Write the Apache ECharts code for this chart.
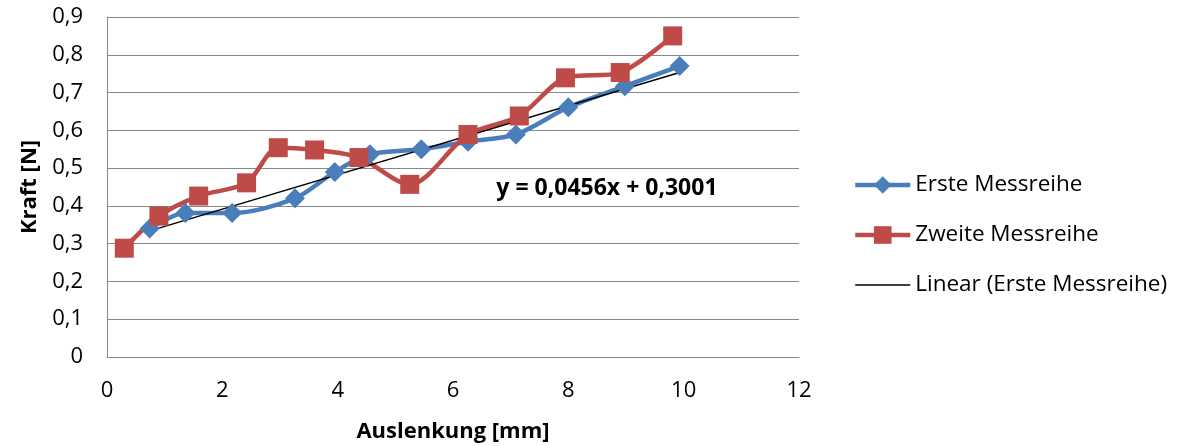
<!DOCTYPE html>
<html>
<head>
<meta charset="utf-8">
<script src="https://cdn.jsdelivr.net/npm/echarts@6/dist/echarts.min.js"></script>
<style>
  html, body { margin: 0; padding: 0; background: #ffffff; }
  #chart { width: 1190px; height: 446px; }
</style>
</head>
<body>
<div id="chart"></div>
<script>
// Measured deflection (mm) and force (N), first series
const ersteX = [0.74, 1.36, 2.17, 3.26, 3.95, 4.56, 5.45, 6.26, 7.09, 8.00, 8.98, 9.93];
const ersteY = [0.340, 0.381, 0.381, 0.420, 0.490, 0.537, 0.550, 0.570, 0.589, 0.661, 0.717, 0.770];

// Second series
const zweiteX = [0.30, 0.90, 1.59, 2.42, 2.97, 3.60, 4.37, 5.25, 6.26, 7.15, 7.95, 8.90, 9.81];
const zweiteY = [0.288, 0.373, 0.426, 0.461, 0.554, 0.548, 0.528, 0.457, 0.589, 0.638, 0.739, 0.753, 0.850];

// Linear trend of the first series
const trendSlope = 0.0456;
const trendIntercept = 0.3001;

// Axis ranges and tick steps
const xTicks = [0, 2, 4, 6, 8, 10, 12];
const yTicks = [0, 0.1, 0.2, 0.3, 0.4, 0.5, 0.6, 0.7, 0.8, 0.9];

const seriesNames = ['Erste Messreihe', 'Zweite Messreihe', 'Linear (Erste Messreihe)'];
const xTitle = 'Auslenkung [mm]';
const yTitle = 'Kraft [N]';

const FONT = '"Open Sans", "Noto Sans", sans-serif';
const GRID_COLOR = '#888888';
const BLUE = '#4A7EBB';
const RED = '#BE4B48';

const pairs = (xs, ys) => xs.map((x, i) => [x, ys[i]]);
const dec = v => String(v).replace('.', ',');

const trendStart = ersteX[0];
const trendEnd = ersteX[ersteX.length - 1];
const trendData = [
  [trendStart, trendSlope * trendStart + trendIntercept],
  [trendEnd, trendSlope * trendEnd + trendIntercept]
];
const equation = 'y = ' + dec(trendSlope.toFixed(4)) + 'x + ' + dec(trendIntercept.toFixed(4));

const chart = echarts.init(document.getElementById('chart'), null, { renderer: 'canvas' });

chart.setOption({
  animation: false,
  backgroundColor: '#ffffff',
  textStyle: { fontFamily: FONT },
  grid: {
    left: 107, right: 391, top: 17, bottom: 89,
    containLabel: false,
    outerBoundsMode: 'none'
  },
  legend: {
    orient: 'vertical',
    left: 853,
    top: 172,
    itemWidth: 55,
    itemHeight: 22,
    itemGap: 24,
    padding: 0,
    data: [
      { name: seriesNames[0], lineStyle: { width: 4.5, color: BLUE } },
      { name: seriesNames[1], lineStyle: { width: 4.5, color: RED } },
      { name: seriesNames[2], lineStyle: { width: 1.5, color: '#000000' }, itemStyle: { opacity: 0 } }
    ],
    textStyle: { fontFamily: FONT, fontSize: 22.5, color: '#000000', lineHeight: 26 }
  },
  xAxis: {
    type: 'value',
    min: xTicks[0],
    max: xTicks[xTicks.length - 1],
    interval: xTicks[1] - xTicks[0],
    name: xTitle,
    nameLocation: 'middle',
    nameGap: 64,
    nameTextStyle: { fontFamily: FONT, fontSize: 22, fontWeight: 'bold', color: '#000000' },
    axisLine: { show: true, lineStyle: { color: GRID_COLOR, width: 1 } },
    axisTick: { show: false },
    splitLine: { show: false },
    axisLabel: { fontFamily: FONT, fontSize: 22, color: '#000000', margin: 23, formatter: v => dec(v) }
  },
  yAxis: {
    type: 'value',
    min: yTicks[0],
    max: yTicks[yTicks.length - 1],
    interval: 0.1,
    name: yTitle,
    nameLocation: 'middle',
    nameGap: 66,
    nameTextStyle: { fontFamily: FONT, fontSize: 22, fontWeight: 'bold', color: '#000000' },
    axisLine: { show: true, lineStyle: { color: GRID_COLOR, width: 1 } },
    axisTick: { show: false },
    splitLine: { show: true, lineStyle: { color: GRID_COLOR, width: 1 } },
    axisLabel: {
      fontFamily: FONT, fontSize: 22, color: '#000000', margin: 24,
      formatter: v => v === 0 ? '0' : dec(v.toFixed(1))
    }
  },
  series: [
    {
      name: seriesNames[0],
      type: 'line',
      data: pairs(ersteX, ersteY),
      smooth: 0.3,
      symbol: 'diamond',
      symbolSize: 20,
      lineStyle: { color: BLUE, width: 4.5 },
      itemStyle: { color: BLUE }
    },
    {
      name: seriesNames[1],
      type: 'line',
      data: pairs(zweiteX, zweiteY),
      smooth: 0.3,
      symbol: 'rect',
      symbolSize: 19,
      lineStyle: { color: RED, width: 4.5 },
      itemStyle: { color: RED }
    },
    {
      name: seriesNames[2],
      type: 'line',
      data: trendData,
      symbol: 'none',
      lineStyle: { color: '#000000', width: 1.5 },
      itemStyle: { color: '#000000' }
    }
  ]
});

// Trend equation placed in data coordinates below the fitted line
const eqPos = chart.convertToPixel({ gridIndex: 0 }, [8.67, 0.447]);
chart.setOption({
  graphic: [{
    type: 'text',
    x: eqPos[0],
    y: eqPos[1],
    style: {
      text: equation,
      fontFamily: FONT,
      fontSize: 23,
      fontWeight: 'bold',
      fill: '#000000',
      align: 'center',
      verticalAlign: 'middle'
    }
  }]
});
</script>
</body>
</html>
